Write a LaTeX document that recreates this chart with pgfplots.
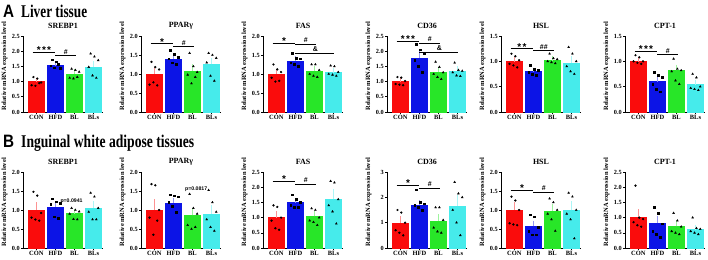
\documentclass[border=0pt]{standalone}
\usepackage{fontspec}
\setmainfont{Liberation Serif}
\setsansfont{Liberation Sans}
\usepackage{graphicx}
\usepackage{pgfplots}
\usepackage{pgfplotstable}
\pgfplotsset{compat=1.18}

\definecolor{cCON}{RGB}{250,12,12}
\definecolor{cHFD}{RGB}{12,20,230}
\definecolor{cBL}{RGB}{40,230,40}
\definecolor{cBLs}{RGB}{70,235,235}

\newcommand{\fs}[1]{\fontsize{#1}{#1}\selectfont}

\tikzset{
  sigstar/.style={anchor=base, yshift=-1.5bp, inner sep=0, font=\sffamily\bfseries\fs{10}},
  sighash/.style={anchor=base, yshift=1.5bp, inner sep=0, font=\sffamily\bfseries\fs{7}},
  ptext/.style={anchor=center, inner sep=0, font=\sffamily\bfseries\fs{5.2}},
}

\pgfplotsset{
  panel/.style={
    scale only axis, width=80bp, height=76bp,
    xmin=-0.7, xmax=3.5, ymin=0,
    axis lines*=left,
    axis line style={line width=0.7pt, -},
    every tick/.style={black, line width=0.6pt},
    tick align=outside, major tick length=2bp,
    xtick={0,1,2,3}, xticklabels={CON,HFD,BL,BLs},
    xticklabel style={font=\bfseries\fs{6.5}, inner sep=1pt},
    yticklabel style={font=\bfseries\fs{6.3}, inner sep=1pt,
      /pgf/number format/.cd, fixed, fixed zerofill, precision=1},
    /pgf/number format/assume math mode=true,
    ylabel={Relative mRNA expression level},
    every axis y label/.style={at={(axis description cs:-0.23,0.6)}, rotate=90,
      anchor=center, font=\bfseries\fs{6.5}},
    every axis title/.style={at={(axis description cs:0.5,1)}, anchor=center,
      yshift=10bp, font=\bfseries\fs{8}},
    clip=false,
  },
  cbar/.style={ybar, bar width=0.84, bar shift=0pt, fill=#1, draw=#1, line width=0.3pt,
    /pgfplots/error bars/y dir=plus, /pgfplots/error bars/y explicit,
    /pgfplots/error bars/error bar style={#1!45!white, line width=0.8pt},
    /pgfplots/error bars/error mark options={#1!45!white, mark size=2.4pt, line width=0.8pt}},
  dots/.style={only marks, scatter, scatter src=explicit symbolic, mark size=0.95pt,
    scatter/classes={
      0={mark=*, black},
      1={mark=square*, black, mark size=0.85pt},
      2={mark=triangle*, black, mark size=1.1pt},
      3={mark=triangle*, black, mark size=1.1pt, mark options={rotate=180, draw=black, fill=black}}}},
  sigline/.style={black, line width=0.6pt, mark=none, forget plot},
}

\newcommand{\drawpanel}[1]{%
  \addplot[restrict x to domain=-0.2:0.2, cbar=cCON] table[x=x, y=m, y error=e] {#1};
  \addplot[restrict x to domain=0.8:1.2, cbar=cHFD] table[x=x, y=m, y error=e] {#1};
  \addplot[restrict x to domain=1.8:2.2, cbar=cBL] table[x=x, y=m, y error=e] {#1};
  \addplot[restrict x to domain=2.8:3.2, cbar=cBLs] table[x=x, y=m, y error=e] {#1};
  \pgfplotsinvokeforeach{1,...,6}{%
    \addplot[dots] table[x expr=\thisrow{x}+(##1-3.5)*0.1, y=d##1, meta=x] {#1};
  }%
}

% liver tissue: mean, SEM, six animals
\pgfplotstableread{
x m e d1 d2 d3 d4 d5 d6
0 1.00 0.05 0.88 1.15 0.86 1.10 0.95 0.97
1 1.54 0.06 1.52 1.72 1.46 1.65 1.58 1.45
2 1.26 0.07 1.12 1.42 1.10 1.38 1.15 1.32
3 1.48 0.12 1.48 1.92 1.20 1.82 1.12 1.70
}\tAa
\pgfplotstableread{
x m e d1 d2 d3 d4 d5 d6
0 1.00 0.10 0.72 1.32 0.78 1.18 0.70 1.12
1 1.40 0.05 1.40 1.62 1.30 1.52 1.25 1.45
2 1.08 0.11 0.98 1.55 0.75 1.20 0.92 1.05
3 1.25 0.12 1.30 1.55 0.95 1.50 0.82 1.42
}\tAb
\pgfplotstableread{
x m e d1 d2 d3 d4 d5 d6
0 1.00 0.07 0.90 1.25 0.80 1.12 0.82 1.05
1 1.34 0.06 1.30 1.55 1.25 1.42 1.20 1.40
2 1.08 0.06 1.00 1.25 0.95 1.25 0.92 1.10
3 1.04 0.05 1.00 1.22 0.98 1.20 0.95 1.05
}\tAc
\pgfplotstableread{
x m e d1 d2 d3 d4 d5 d6
0 1.00 0.05 0.92 1.15 0.90 1.13 0.88 1.02
1 1.78 0.16 1.70 2.22 1.50 2.05 1.30 1.92
2 1.32 0.09 1.25 1.65 1.15 1.48 1.08 1.30
3 1.34 0.08 1.30 1.62 1.20 1.38 1.18 1.35
}\tAd
\pgfplotstableread{
x m e d1 d2 d3 d4 d5 d6
0 1.00 0.04 0.95 1.15 0.92 1.10 0.88 1.02
1 0.80 0.03 0.78 0.92 0.75 0.84 0.72 0.82
2 1.03 0.03 1.00 1.15 0.98 1.06 0.96 1.04
3 0.97 0.08 0.90 1.28 0.80 1.15 0.75 1.00
}\tAe
\pgfplotstableread{
x m e d1 d2 d3 d4 d5 d6
0 1.00 0.03 1.00 1.12 0.97 1.08 0.95 1.00
1 0.60 0.05 0.55 0.78 0.45 0.73 0.40 0.68
2 0.82 0.07 0.80 1.05 0.62 0.85 0.55 0.82
3 0.54 0.05 0.47 0.75 0.45 0.68 0.43 0.50
}\tAf
% inguinal white adipose tissue
\pgfplotstableread{
x m e d1 d2 d3 d4 d5 d6
0 1.00 0.14 0.80 1.48 0.75 1.38 0.72 0.92
1 1.08 0.07 1.15 1.30 0.82 1.22 0.78 1.18
2 0.91 0.05 0.90 1.05 0.76 1.00 0.75 0.96
3 1.05 0.12 0.95 1.45 0.75 1.35 0.75 1.05
}\tBa
\pgfplotstableread{
x m e d1 d2 d3 d4 d5 d6
0 1.00 0.22 0.80 1.68 0.35 1.65 0.72 1.00
1 1.18 0.07 1.20 1.40 1.10 1.38 0.95 1.35
2 0.86 0.14 0.60 1.42 0.50 1.05 0.55 0.90
3 0.90 0.17 0.75 1.52 0.55 1.20 0.45 0.95
}\tBb
\pgfplotstableread{
x m e d1 d2 d3 d4 d5 d6
0 1.00 0.13 0.90 1.40 0.65 1.35 0.60 1.00
1 1.50 0.07 1.40 1.75 1.35 1.60 1.35 1.50
2 1.04 0.10 0.90 1.30 0.85 1.25 0.75 1.00
3 1.60 0.25 1.40 2.20 1.20 2.15 0.80 1.60
}\tBc
\pgfplotstableread{
x m e d1 d2 d3 d4 d5 d6
0 0.99 0.17 0.70 1.50 0.60 1.40 0.50 1.00
1 1.69 0.12 1.70 2.30 1.60 1.80 1.50 1.75
2 1.07 0.17 0.80 1.60 0.65 1.60 0.60 1.10
3 1.67 0.32 1.50 2.60 1.00 2.15 0.50 2.00
}\tBd
\pgfplotstableread{
x m e d1 d2 d3 d4 d5 d6
0 1.00 0.14 0.65 1.35 0.62 1.25 0.60 1.00
1 0.57 0.09 0.45 0.88 0.35 0.82 0.35 0.55
2 0.97 0.12 0.90 1.30 0.75 1.20 0.45 1.00
3 0.99 0.18 0.90 1.45 0.75 1.35 0.25 1.00
}\tBe
\pgfplotstableread{
x m e d1 d2 d3 d4 d5 d6
0 1.00 0.20 0.85 2.05 0.75 1.00 0.70 0.95
1 0.82 0.17 0.55 1.35 0.45 1.15 0.35 0.80
2 0.71 0.12 0.55 1.15 0.50 0.90 0.45 0.70
3 0.61 0.06 0.55 1.00 0.50 0.65 0.45 0.62
}\tBf

\begin{document}
\begin{tikzpicture}
\useasboundingbox (0,0) rectangle (708bp,260bp);

\node[anchor=base west, inner sep=0] at (3bp,242bp) {\scalebox{0.85}[1]{\sffamily\bfseries\fs{18}A}};
\node[anchor=base west, inner sep=0] at (21bp,242bp) {\scalebox{0.74}[1]{\bfseries\fs{18}Liver tissue}};
\node[anchor=base west, inner sep=0] at (3bp,112bp) {\scalebox{0.85}[1]{\sffamily\bfseries\fs{18}B}};
\node[anchor=base west, inner sep=0] at (21bp,112bp) {\scalebox{0.76}[1]{\bfseries\fs{18}Inguinal white adipose tissues}};

% ---------- row A ----------
\begin{axis}[panel, at={(23bp,148bp)}, ymax=2.5, ytick={0,0.5,1,1.5,2,2.5}, title={SREBP1}]
\drawpanel{\tAa}
\addplot[sigline] coordinates {(-0.2,1.97) (1.0,1.97)};
\addplot[sigline] coordinates {(1.0,1.85) (2.1,1.85)};
\node[sigstar] at (axis cs:0.4,1.97) {*\kern1.2pt*\kern1.2pt*};
\node[sighash] at (axis cs:1.55,1.85) {\#};
\end{axis}

\begin{axis}[panel, at={(141bp,148bp)}, ymax=2, ytick={0,0.5,1,1.5,2}, title={PPARγ}]
\drawpanel{\tAb}
\addplot[sigline] coordinates {(-0.2,1.80) (1.0,1.80)};
\addplot[sigline] coordinates {(1.0,1.72) (2.1,1.72)};
\node[sigstar] at (axis cs:0.4,1.80) {*};
\node[sighash] at (axis cs:1.55,1.72) {\#};
\end{axis}

\begin{axis}[panel, at={(263bp,148bp)}, ymax=2, ytick={0,0.5,1,1.5,2}, title={FAS}]
\drawpanel{\tAc}
\addplot[sigline] coordinates {(-0.2,1.82) (1.0,1.82)};
\addplot[sigline] coordinates {(1.0,1.79) (2.1,1.79)};
\addplot[sigline] coordinates {(1.0,1.54) (3.05,1.54)};
\node[sigstar] at (axis cs:0.4,1.82) {*};
\node[sighash] at (axis cs:1.55,1.79) {\#};
\node[sighash] at (axis cs:2.05,1.54) {\&};
\end{axis}

\begin{axis}[panel, at={(387bp,148bp)}, ymax=2.5, ytick={0,0.5,1,1.5,2,2.5}, title={CD36}]
\drawpanel{\tAd}
\addplot[sigline] coordinates {(-0.2,2.33) (1.0,2.33)};
\addplot[sigline] coordinates {(1.0,2.26) (2.1,2.26)};
\addplot[sigline] coordinates {(1.0,1.97) (3.05,1.97)};
\node[sigstar] at (axis cs:0.4,2.33) {*\kern1.2pt*\kern1.2pt*};
\node[sighash] at (axis cs:1.55,2.26) {\#};
\node[sighash] at (axis cs:2.05,1.97) {\&};
\end{axis}

\begin{axis}[panel, at={(501bp,148bp)}, ymax=1.5, ytick={0,0.5,1,1.5}, title={HSL}]
\drawpanel{\tAe}
\addplot[sigline] coordinates {(-0.2,1.25) (1.0,1.25)};
\addplot[sigline] coordinates {(1.0,1.21) (2.1,1.21)};
\node[sigstar] at (axis cs:0.4,1.25) {*\kern1.2pt*};
\node[sighash] at (axis cs:1.55,1.21) {\#\#};
\end{axis}

\begin{axis}[panel, at={(625bp,148bp)}, ymax=1.5, ytick={0,0.5,1,1.5}, title={CPT-1}]
\drawpanel{\tAf}
\addplot[sigline] coordinates {(-0.2,1.20) (1.0,1.20)};
\addplot[sigline] coordinates {(1.0,1.13) (2.1,1.13)};
\node[sigstar] at (axis cs:0.4,1.20) {*\kern1.2pt*\kern1.2pt*};
\node[sighash] at (axis cs:1.55,1.13) {\#};
\end{axis}

% ---------- row B ----------
\begin{axis}[panel, at={(23bp,12bp)}, ymax=2, ytick={0,0.5,1,1.5,2}, title={SREBP1}]
\drawpanel{\tBa}
\node[ptext] at (axis cs:1.85,1.23) {p=0.0941};
\end{axis}

\begin{axis}[panel, at={(141bp,12bp)}, ymax=2, ytick={0,0.5,1,1.5,2}, title={PPARγ}]
\drawpanel{\tBb}
\node[ptext] at (axis cs:2.2,1.55) {p=0.0817};
\end{axis}

\begin{axis}[panel, at={(263bp,12bp)}, ymax=2.5, ytick={0,0.5,1,1.5,2,2.5}, title={FAS}]
\drawpanel{\tBc}
\addplot[sigline] coordinates {(-0.2,2.19) (1.0,2.19)};
\addplot[sigline] coordinates {(1.0,2.11) (2.1,2.11)};
\node[sigstar] at (axis cs:0.4,2.19) {*};
\node[sighash] at (axis cs:1.55,2.11) {\#};
\end{axis}

\begin{axis}[panel, at={(387bp,12bp)}, ymax=3, ytick={0,1,2,3}, title={CD36},
  yticklabel style={/pgf/number format/precision=0}]
\drawpanel{\tBd}
\addplot[sigline] coordinates {(-0.2,2.47) (1.0,2.47)};
\addplot[sigline] coordinates {(1.0,2.37) (2.1,2.37)};
\node[sigstar] at (axis cs:0.4,2.47) {*};
\node[sighash] at (axis cs:1.55,2.37) {\#};
\end{axis}

\begin{axis}[panel, at={(501bp,12bp)}, ymax=2, ytick={0,0.5,1,1.5,2}, title={HSL}]
\drawpanel{\tBe}
\addplot[sigline] coordinates {(-0.2,1.53) (1.0,1.53)};
\addplot[sigline] coordinates {(1.0,1.47) (2.1,1.47)};
\node[sigstar] at (axis cs:0.4,1.53) {*};
\node[sighash] at (axis cs:1.55,1.47) {\#};
\end{axis}

\begin{axis}[panel, at={(625bp,12bp)}, ymax=2.5, ytick={0,0.5,1,1.5,2,2.5}, title={CPT-1}]
\drawpanel{\tBf}
\end{axis}

\end{tikzpicture}
\end{document}
